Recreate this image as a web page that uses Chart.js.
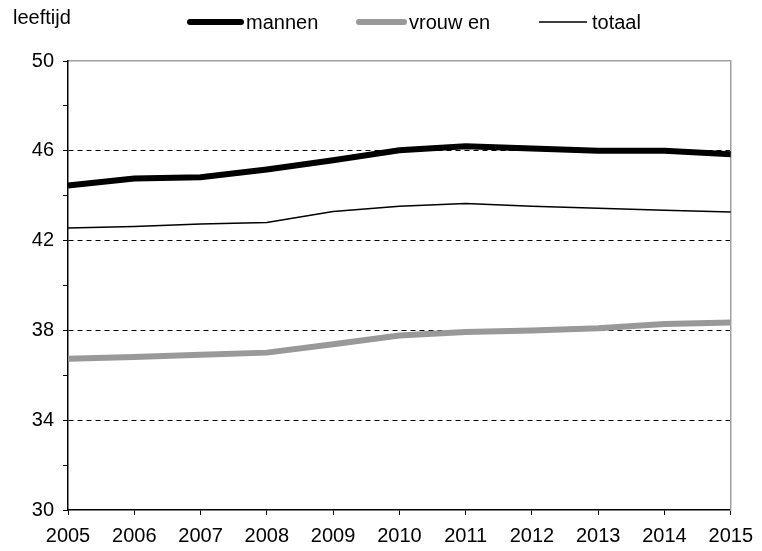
<!DOCTYPE html>
<html lang="nl">
<head>
  <meta charset="UTF-8" />
  <title>Leeftijd mannen, vrouwen, totaal</title>
  <script src="https://cdn.jsdelivr.net/npm/chart.js"></script>
  <style>
    html, body { margin: 0; padding: 0; background: #fff; }
    canvas { display: block; }
  </style>
</head>
<body>
  <canvas id="ageChart" width="762" height="551"></canvas>

  <script>
    // data
    const years = ['2005', '2006', '2007', '2008', '2009', '2010', '2011', '2012', '2013', '2014', '2015'];
    const mannen = [44.45, 44.77, 44.82, 45.17, 45.58, 46.02, 46.2, 46.1, 46.0, 46.0, 45.85];
    const vrouwen = [36.74, 36.82, 36.91, 37.01, 37.38, 37.77, 37.93, 38.0, 38.1, 38.28, 38.35];
    const totaal = [42.56, 42.63, 42.74, 42.81, 43.3, 43.53, 43.65, 43.53, 43.44, 43.35, 43.27];
    const yLabels = [30, 34, 38, 42, 46, 50];

    const FONT = "'Liberation Sans', Arial, sans-serif";

    // legend + axis title drawn on top
    const headerPlugin = {
      id: 'header',
      afterDraw(chart) {
        const ctx = chart.ctx;
        ctx.save();
        ctx.fillStyle = '#000';
        ctx.font = '20px ' + FONT;
        ctx.textBaseline = 'middle';
        ctx.fillText('leeftijd', 13, 18);

        const items = [
          { text: 'mannen', color: '#000', width: 6, x1: 190, x2: 241 },
          { text: 'vrouw en', color: '#999', width: 6, x1: 359, x2: 404 },
          { text: 'totaal', color: '#000', width: 1.5, x1: 539, x2: 587 }
        ];
        items.forEach(it => {
          ctx.beginPath();
          ctx.strokeStyle = it.color;
          ctx.lineWidth = it.width;
          ctx.lineCap = it.width > 2 ? 'round' : 'butt';
          ctx.moveTo(it.x1, 22);
          ctx.lineTo(it.x2, 22);
          ctx.stroke();
          ctx.fillText(it.text, it.x2 + 5, 23);
        });
        ctx.restore();
      }
    };

    new Chart(document.getElementById('ageChart'), {
      type: 'line',
      data: {
        labels: years,
        datasets: [
          { label: 'totaal', data: totaal, borderColor: '#000', borderWidth: 1.5, pointRadius: 0, tension: 0 },
          { label: 'vrouwen', data: vrouwen, borderColor: '#999', borderWidth: 6, pointRadius: 0, tension: 0 },
          { label: 'mannen', data: mannen, borderColor: '#000', borderWidth: 6, pointRadius: 0, tension: 0 }
        ]
      },
      options: {
        responsive: false,
        animation: false,
        layout: { padding: { top: 61, left: 0, right: 0, bottom: 0 } },
        plugins: { legend: { display: false }, tooltip: { enabled: false } },
        scales: {
          x: {
            offset: false,
            grid: { drawOnChartArea: false, drawTicks: true, tickLength: 5, tickColor: '#000' },
            border: { color: '#000', width: 1.5 },
            ticks: { color: '#000', font: { family: FONT, size: 20 }, maxRotation: 0, padding: 9 },
            afterFit(scale) { scale.height = 41; }
          },
          x2: {
            position: 'top',
            labels: years,
            grid: { drawOnChartArea: false, drawTicks: false },
            border: { color: '#a0a0a0', width: 1.5 },
            ticks: { display: false },
            afterFit(scale) { scale.height = 0; }
          },
          y: {
            min: 30,
            max: 50,
            grid: {
              color: ctx => (ctx.tick && yLabels.includes(ctx.tick.value) && ctx.tick.value !== 30 && ctx.tick.value !== 50) ? '#000' : 'rgba(0,0,0,0)',
              lineWidth: 1,
              tickLength: 5,
              tickColor: '#000',
              tickBorderDash: []
            },
            border: { color: '#000', width: 1.5, dash: [5, 4] },
            ticks: {
              stepSize: 2,
              color: '#000',
              font: { family: FONT, size: 20 },
              padding: 9,
              callback: v => yLabels.includes(v) ? v : ''
            },
            afterFit(scale) { scale.width = 68; }
          },
          y2: {
            position: 'right',
            min: 30,
            max: 50,
            grid: { drawOnChartArea: false, drawTicks: false },
            border: { color: '#a0a0a0', width: 1.5 },
            ticks: { display: false },
            afterFit(scale) { scale.width = 30; }
          }
        }
      },
      plugins: [headerPlugin]
    });
  </script>
</body>
</html>
